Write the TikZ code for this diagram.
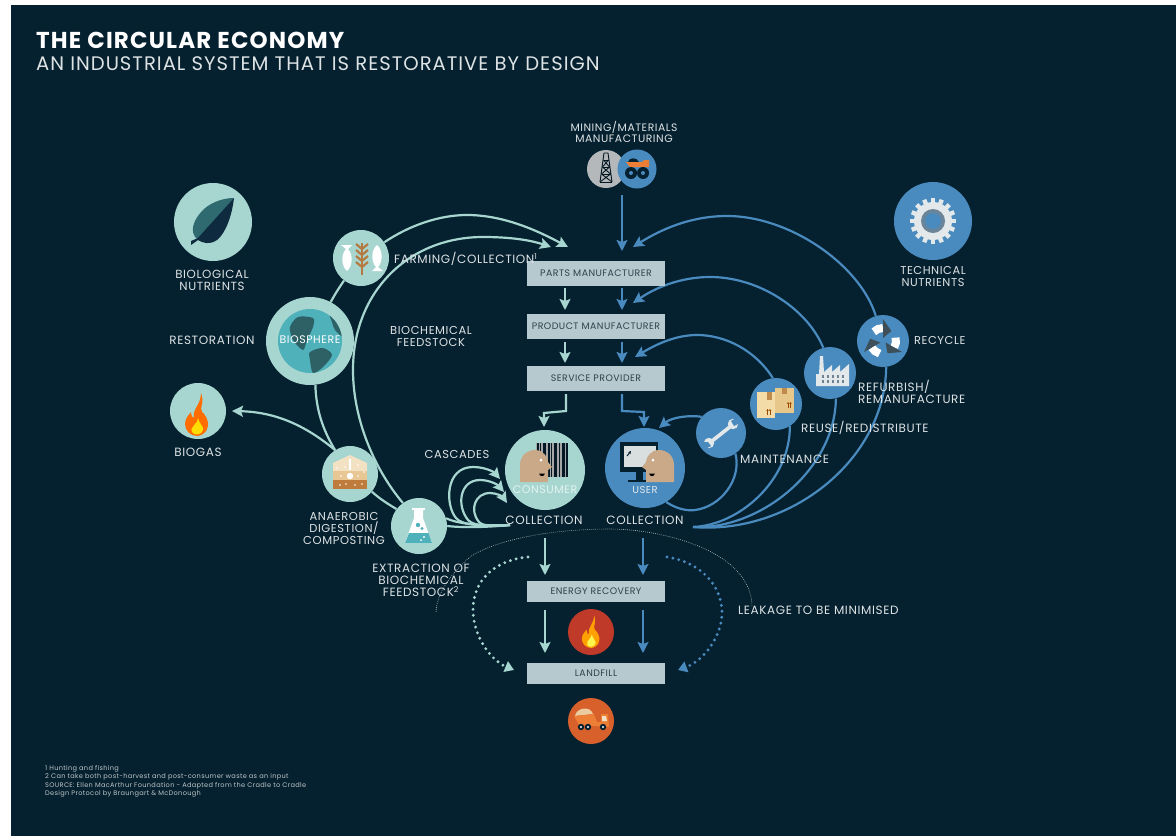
\documentclass[tikz,border=0pt]{standalone}
\usepackage{fontspec}
\setmainfont[LetterSpace=5]{Poppins}
\usetikzlibrary{arrows.meta}
\definecolor{bgc}{HTML}{05202E}
\definecolor{mint}{HTML}{A7D6D1}
\definecolor{bluec}{HTML}{4A8BBF}
\definecolor{boxc}{HTML}{B5C9CF}
\definecolor{txt}{HTML}{DDE3E5}
\definecolor{boxtxt}{HTML}{2F424C}
\definecolor{skin}{HTML}{C9A988}
\definecolor{paleg}{HTML}{E3E8EA}
\definecolor{leaflight}{HTML}{2F6A70}
\definecolor{leafdark}{HTML}{0E2A3F}
\definecolor{globec}{HTML}{4FB1BA}
\definecolor{landc}{HTML}{2D6166}
\definecolor{firebg}{HTML}{BF3A28}
\definecolor{truckbg}{HTML}{D8612B}
\definecolor{truckbed}{HTML}{EC7F35}
\definecolor{loadc}{HTML}{EBCBA0}
\definecolor{oilc}{HTML}{B4B8BA}
\definecolor{wheat}{HTML}{B57A42}
\definecolor{cream1}{HTML}{F3E1C4}
\definecolor{cream2}{HTML}{E9C795}
\definecolor{soil}{HTML}{BE7B3C}
\definecolor{boxfront}{HTML}{F3DCA8}
\definecolor{boxback}{HTML}{E8C88A}
\definecolor{strap}{HTML}{C08A4C}
\definecolor{darkhead}{HTML}{3D4F58}
\pgfdeclarelayer{bg}
\pgfsetlayers{bg,main}
\tikzset{
  x=1pt,y=-1pt,
  disc/.style={circle,draw=none,inner sep=0pt,fill=#1},
  minibox/.style={rectangle,fill=boxc,minimum width=138pt,inner sep=0pt,text=boxtxt,font=\fontsize{9.4}{10}\selectfont},
  lbl/.style={text=txt,inner sep=0pt,align=center,font=\fontsize{12}{12}\selectfont},
  lbll/.style={lbl,anchor=west,align=left},
  mintline/.style={draw=mint,line width=2.2pt},
  blueline/.style={draw=bluec,line width=2.2pt},
  mintarrow/.style={mintline,-{Stealth[length=11pt,width=11pt,inset=2pt]}},
  bluearrow/.style={blueline,-{Stealth[length=11pt,width=11pt,inset=2pt]}},
  mintdots/.style={draw=mint,line width=3.2pt,line cap=round,dash pattern=on 0pt off 6pt,-{Stealth[length=9pt,width=11pt,inset=0pt]}},
  bluedots/.style={draw=bluec,line width=3.2pt,line cap=round,dash pattern=on 0pt off 6pt,-{Stealth[length=9pt,width=11pt,inset=0pt]}},
  leakline/.style={draw=txt!80!bgc,line width=0.6pt,dash pattern=on 0.8pt off 1.2pt},
}
\newcommand{\flameicon}[5]{\begin{scope}[shift={(#1,#2)},scale=#3]
 \fill[#4] (4,-22) .. controls (8,-12) and (2,-8) .. (5,-3) .. controls (8,-1) and (12,6) .. (11,11) .. controls (10,18) and (4,21) .. (0,21) .. controls (-7,21) and (-12,15) .. (-12,9) .. controls (-12,3) and (-8,0) .. (-6,-3) .. controls (-6,1) and (-4,3) .. (-3,3) .. controls (-5,-6) and (4,-10) .. (4,-22) -- cycle;
 \fill[#5] (1,3) .. controls (2,9) and (7,11) .. (6,15) .. controls (5,20) and (-3,21) .. (-5,17) .. controls (-7,13) and (-3,12) .. (-2,9) .. controls (-1,8) and (1,6) .. (1,3) -- cycle;
\end{scope}}
\newcommand{\headicon}[3]{\begin{scope}[shift={(#1,#2)},xscale=#3]
 \fill[skin] (-16,16) -- (-16,-1) .. controls (-16,-11) and (-8,-16) .. (-1,-16) .. controls (7,-16) and (12,-9) .. (12,-4) -- (16,1) -- (12,4) -- (12,16) -- cycle;
 \fill[white] (5,-6) circle[radius=1.5];
 \fill[black] (3,7.5) .. controls (4,11) and (8,11) .. (9,7.5) -- cycle;
\end{scope}}
\newcommand{\fishicon}[3]{\begin{scope}[shift={(#1,#2)},rotate=#3]
 \fill[white] (0,-13) .. controls (6,-8) and (6,4) .. (1,9) -- (6,13) -- (-5,13) -- (-1,9) .. controls (-6,4) and (-6,-8) .. (0,-13) -- cycle;
\end{scope}}
\begin{document}
\begin{tikzpicture}
\useasboundingbox (0,0) rectangle (1176,836);
\begin{pgfonlayer}{bg}
\fill[white] (0,0) rectangle (1176,836);
\fill[bgc] (11,5) rectangle (1176,836);
\end{pgfonlayer}

% nodes: discs
\node[disc=mint,minimum size=78pt] (leafn) at (213,222) {};
\node[disc=bluec,minimum size=78pt] (gearn) at (933,221) {};
\node[disc=mint,minimum size=56pt] (farm) at (361,258) {};
\node[disc=mint,minimum size=88pt] (bio) at (310,341) {};
\node[disc=mint,minimum size=56pt] (biogas) at (198,411) {};
\node[disc=mint,minimum size=56pt] (anaer) at (350,474) {};
\node[disc=mint,minimum size=56pt] (flask) at (419,526) {};
\node[disc=mint,minimum size=80pt] (cons) at (545,470) {};
\node[disc=bluec,minimum size=80pt] (user) at (645,468) {};
\node[disc=bluec,minimum size=50pt] (maint) at (721,433) {};
\node[disc=bluec,minimum size=52pt] (reuse) at (776,404) {};
\node[disc=bluec,minimum size=52pt] (refurb) at (830,373) {};
\node[disc=bluec,minimum size=52pt] (recyc) at (883,341) {};
\node[disc=oilc,minimum size=38pt] (oil) at (606,169) {};
\node[disc=bluec,minimum size=39pt] (mine) at (637,169) {};
\node[disc=firebg,minimum size=46pt] (fire) at (591,632) {};
\node[disc=truckbg,minimum size=46pt] (truck) at (591,721) {};

% boxes
\node[minibox,minimum height=25pt] (parts) at (596,273.5) {PARTS MANUFACTURER};
\node[minibox,minimum height=25pt] (prod) at (596,326.5) {PRODUCT MANUFACTURER};
\node[minibox,minimum height=25pt] (serv) at (596,378.5) {SERVICE PROVIDER};
\node[minibox,minimum height=21pt] (energy) at (596,591.5) {ENERGY RECOVERY};
\node[minibox,minimum height=21pt] (land) at (596,673.5) {LANDFILL};

% free ends of connectors
\coordinate (collM) at (510,525);
\coordinate (collB) at (693,527);
\coordinate (tipF) at (568,247);
\coordinate (tipB) at (551,247);
\coordinate (tipG) at (232,411);
\coordinate (tipC1) at (500,479);
\coordinate (tipC2) at (504,492);
\coordinate (tipC3) at (507,503);
\coordinate (tipR) at (633,247);
\coordinate (tipP) at (633,303);
\coordinate (tipS) at (635,357);
\coordinate (tipU) at (659,428);
\coordinate (mineS) at (622,195);
\coordinate (mineE) at (622,251);
\coordinate (a1) at (565,288); \coordinate (a2) at (565,310);
\coordinate (a3) at (622,288); \coordinate (a4) at (622,310);
\coordinate (a5) at (565,342); \coordinate (a6) at (565,363);
\coordinate (a7) at (622,342); \coordinate (a8) at (622,363);
\coordinate (b1) at (566,394); \coordinate (b2) at (544,427);
\coordinate (b3) at (622,394); \coordinate (b4) at (644,427);
\coordinate (c1) at (545,538); \coordinate (c2) at (545,575);
\coordinate (c3) at (643,538); \coordinate (c4) at (643,575);
\coordinate (d1) at (545,610); \coordinate (d2) at (545,653);
\coordinate (d3) at (643,610); \coordinate (d4) at (643,653);
\coordinate (e1) at (528,557); \coordinate (e2) at (514,670);
\coordinate (f1) at (667,557); \coordinate (f2) at (678,670);
\coordinate (g1) at (436,612); \coordinate (g2) at (752,607);

\begin{pgfonlayer}{bg}
% biological side
\draw[mintarrow] (farm.34) .. controls (410,225) and (440,215) .. (467,215) .. controls (505,215) and (540,232) .. (tipF);
\draw[mintarrow] (flask.125) .. controls (375,470) and (353,420) .. (353,370) .. controls (353,290) and (410,237) .. (483,237) .. controls (510,237) and (530,240) .. (tipB);
\draw[mintline] (bio.62) .. controls (335,294) and (339,288) .. (farm.-127);
\draw[mintline] (bio.-83) .. controls (316,410) and (323,430) .. (anaer.122);
\draw[mintline] (anaer.-39) .. controls (380,499) and (388,504) .. (flask.143);
\draw[mintarrow] (anaer.122) .. controls (305,425) and (275,412) .. (tipG);
\draw[mintline] (flask.0) .. controls (465,528) and (490,527) .. (collM);
\draw[mintline] (flask.16) .. controls (458,524) and (480,526) .. (collM);
\draw[mintarrow] (collM) .. controls (485,526) and (462,526) .. (456,518) .. controls (445,505) and (445,467) .. (473,467) .. controls (485,467) and (494,472) .. (tipC1);
\draw[mintarrow] (collM) .. controls (490,526) and (475,527) .. (468,520) .. controls (456,505) and (460,480) .. (480,480) .. controls (490,480) and (498,485) .. (tipC2);
\draw[mintarrow] (collM) .. controls (495,526) and (484,527) .. (479,522) .. controls (469,510) and (475,493) .. (490,493) .. controls (497,493) and (503,497) .. (tipC3);
% technical side
\draw[bluearrow] (recyc.106) .. controls (860,265) and (790,216) .. (727,216) .. controls (690,216) and (660,230) .. (tipR);
\draw[bluearrow] (refurb.105) .. controls (808,310) and (760,277) .. (710,277) .. controls (680,277) and (655,288) .. (tipP);
\draw[bluearrow] (reuse.97) .. controls (755,350) and (725,335) .. (697,335) .. controls (675,335) and (655,345) .. (tipS);
\draw[bluearrow] (maint.140) .. controls (690,415) and (672,417) .. (tipU);
\draw[blueline] (user.-58) .. controls (678,510) and (690,511) .. (695,510) .. controls (720,507) and (742,480) .. (maint.-55);
\draw[blueline] (reuse.-58) .. controls (790,480) and (740,525) .. (collB);
\draw[blueline] (refurb.-77) .. controls (835,470) and (760,530) .. (collB);
\draw[blueline] (recyc.-83) .. controls (885,460) and (790,535) .. (collB);
% straight
\draw[bluearrow] (mineS) -- (mineE);
\draw[mintarrow] (a1) -- (a2);
\draw[bluearrow] (a3) -- (a4);
\draw[mintarrow] (a5) -- (a6);
\draw[bluearrow] (a7) -- (a8);
\draw[mintarrow] (b1) -- ++(0,17) -- ++(-22,2) -- (b2);
\draw[bluearrow] (b3) -- ++(0,17) -- ++(22,1) -- (b4);
\draw[mintarrow] (c1) -- (c2);
\draw[bluearrow] (c3) -- (c4);
\draw[mintarrow] (d1) -- (d2);
\draw[bluearrow] (d3) -- (d4);
\draw[mintdots] (e1) .. controls (495,560) and (473,580) .. (473,610) .. controls (473,635) and (490,660) .. (e2);
\draw[bluedots] (f1) .. controls (700,562) and (722,585) .. (722,613) .. controls (722,635) and (705,660) .. (f2);
\draw[leakline] (g1) .. controls (437,590) and (455,570) .. (470,557) .. controls (495,540) and (550,529) .. (610,529) .. controls (660,529) and (752,550) .. (g2);
\end{pgfonlayer}

% ---------- icons ----------
% leaf
\fill[leaflight] (234,198) .. controls (222,198) and (210,203) .. (203,210) .. controls (194,219) and (188,232) .. (198,240) -- cycle;
\fill[leafdark] (234,198) .. controls (232,215) and (226,233) .. (217,240) .. controls (210,245) and (202,243) .. (198,240) -- (191,245) -- (191,241) -- (198,238) -- cycle;
% gear
\begin{scope}[shift={(gearn.center)}]
\foreach \a in {0,22.5,...,337.5} {\fill[paleg,rotate=\a] (-2.2,-23) rectangle (2.2,0);}
\fill[paleg] (0,0) circle[radius=19];
\fill[gray!60!bluec] (0,0) circle[radius=12];
\fill[bluec] (0,0) circle[radius=8];
\end{scope}
% farming
\fishicon{347}{258}{180}
\fishicon{377}{258}{0}
\draw[wheat,line width=1.6pt] (362,243) -- (362,275);
\foreach \yy in {247,253,259,265} {\draw[wheat,line width=2.2pt] (356,\yy-3) -- (362,\yy+2) -- (368,\yy-3);}
% globe
\node[disc=globec,minimum size=64pt] (globe) at (bio.center) {};
\begin{scope}
\clip (bio.center) circle[radius=32];
\fill[landc] plot[smooth cycle] coordinates {(290,327) (298,317) (313,318) (313,327) (307,340) (303,350) (293,340)};
\fill[landc] plot[smooth cycle] coordinates {(310,352) (323,348) (332,355) (323,367) (313,373) (310,360)};
\fill[landc] plot[smooth cycle] coordinates {(330,315) (340,318) (344,337) (335,330) (332,322)};
\end{scope}
% flames
\flameicon{197}{415}{1}{orange!85!red}{yellow!80!orange}
\flameicon{591}{632}{0.76}{orange!75!yellow}{yellow!70!white}
% compost
\fill[cream1] (333,463) -- (350,455) -- (367,463) -- (367,471) -- (333,471) -- cycle;
\fill[cream2] (333,471) rectangle (367,480);
\fill[soil] (333,480) rectangle (367,489);
\draw[white,line width=1.6pt] (350,459) -- (350,470);
\fill[white] (350,476) circle[radius=3.2];
\foreach \px/\py in {337/468,341/476,346/484,340/485,355/485,362/484,358/476,364/472,345/467,358/465} {\fill[white] (\px,\py) circle[radius=0.8];}
% flask
\fill[white] (412,508) rectangle (425,510);
\fill[white] (414,510) -- (423,510) -- (423,518) -- (432,543) -- (405,543) -- (414,518) -- cycle;
\fill[globec] (409,533) -- (428.5,533) -- (432,543) -- (405,543) -- cycle;
\fill[globec] (418,525) circle[radius=2.2] (422,528.5) circle[radius=1.6];
\fill[white] (424,537) circle[radius=1.2] (421,540) circle[radius=1];
% consumer
\fill[gray!70!white] (536,443) rectangle (568,477);
\foreach \bx/\bw in {537/2,540/1,543/3,548/1.5,551/1,554/3,559/1,562/3,566/1.5} {\fill[bgc!80!black] (\bx,443) rectangle ++(\bw,34);}
\headicon{536}{466}{1}
% user
\fill[bgc] (620,442) rectangle (658,472);
\fill[paleg!90!gray] (624,446) rectangle (656,467);
\fill[bgc] (636,472) rectangle (643,480);
\fill[bgc] (628,480) rectangle (647,482);
\draw[bgc,line width=1pt,-{Stealth[length=3pt,width=3pt]}] (627,456) -- (631,451);
\headicon{658}{466}{-1}
% maintenance wrench
\draw[paleg,line width=3.6pt] (712,441) -- (731,426);
\fill[paleg] (733,424) circle[radius=5.2];
\fill[paleg] (709,443) circle[radius=5.2];
\fill[bluec] (736,418) -- (740,423) -- (734,426) -- (731,421) -- cycle;
\fill[bluec] (705,449) -- (702,442) -- (708,442) -- (711,446) -- cycle;
% reuse boxes
\fill[boxback] (775,388) rectangle (794,413);
\fill[strap] (782,388) rectangle (787,394);
\fill[boxfront] (757,392) rectangle (775,418);
\fill[strap] (767,392) rectangle (772,400);
\foreach \ax in {767.5,770} {\draw[orange!60!black,line width=0.8pt,-{Stealth[length=2pt,width=2.4pt]}] (\ax,415) -- (\ax,409);}
\foreach \ax in {788,790.5} {\draw[orange!60!black,line width=0.8pt,-{Stealth[length=2pt,width=2.4pt]}] (\ax,408) -- (\ax,402);}
% factory
\fill[paleg] (816,386) -- (816,374) -- (819,374) -- (820,356) -- (823,356) -- (824,372) -- (832,365) -- (832,372) -- (840,365) -- (840,372) -- (849,364) -- (849,386) -- cycle;
\foreach \wx in {822,827,832,837,842} {\foreach \wy in {375,380} {\fill[gray!70!bluec] (\wx,\wy) rectangle ++(2.4,3);}}
% recycle
\begin{scope}[shift={(recyc.center)}]
\foreach \r in {0,120,240} {
 \begin{scope}[rotate=\r]
 \draw[white,line width=8pt] (-15:13) arc[start angle=-15,end angle=30,radius=13];
 \fill[darkhead] (30:3) -- (30:22) -- (70:13) -- cycle;
 \end{scope}
}
\end{scope}
% derrick
\begin{scope}[bgc!70!black,line width=0.9pt]
\draw (604,153) -- (600,182) (608,153) -- (612,182) (604,153) -- (608,153);
\draw (603.5,160) -- (608.5,160) (602.5,167) -- (609.5,167) (601.5,174) -- (610.5,174) (600,182) -- (612,182);
\draw (603.5,160) -- (609.5,167) (608.5,160) -- (602.5,167) (602.5,167) -- (610.5,174) (609.5,167) -- (601.5,174) (601.5,174) -- (612,182) (610.5,174) -- (600,182);
\end{scope}
% mining truck
\fill[bgc] (628,162) .. controls (629,157) and (637,157) .. (639,162) -- cycle;
\fill[truckbed] (626,162) -- (642,162) -- (644,160) -- (649,160) -- (649,167) -- (630,167) -- cycle;
\foreach \wx in {631,643} {\fill[bgc] (\wx,173) circle[radius=6]; \fill[bluec] (\wx,173) circle[radius=2];}
% dump truck
\fill[loadc] (575,716) .. controls (576,708) and (590,705) .. (593,714) -- cycle;
\fill[truckbed] (574,716) -- (594,714) -- (597,722) -- (601,722) -- (601,714) -- (608,714) -- (609,727) -- (579,725) -- cycle;
\fill[loadc!60!white] (602,716) -- (606,716) -- (607,721) -- (602,721) -- cycle;
\foreach \wx in {581,588,603} {\fill[bgc] (\wx,727) circle[radius=3.2]; \fill[white] (\wx,727) circle[radius=1.1];}

% ---------- text ----------
\node[anchor=west,inner sep=0pt,text=white,font=\fontsize{23}{25}\bfseries\selectfont] (title) at (36,40) {THE CIRCULAR ECONOMY};
\node[anchor=west,inner sep=0pt,text=txt,font=\fontsize{19.6}{21}\selectfont] (subtitle) at (36,64) {AN INDUSTRIAL SYSTEM THAT IS RESTORATIVE BY DESIGN};
\node[lbl,font=\fontsize{10.8}{11}\selectfont] (tmine) at (624,131.5) {MINING/MATERIALS\\MANUFACTURING};
\node[lbl,font=\fontsize{11.8}{12}\selectfont] (tleaf) at (212,280) {BIOLOGICAL\\NUTRIENTS};
\node[lbl,font=\fontsize{11.4}{12}\selectfont] (tgear) at (933,277) {TECHNICAL\\NUTRIENTS};
\node[lbll] (tfarm) at (394,259) {FARMING/COLLECTION\textsuperscript{1}};
\node[lbl] (trest) at (212,340) {RESTORATION};
\node[lbl,text=white,font=\fontsize{11}{12}\selectfont] (tbio) at (310,340) {BIOSPHERE};
\node[lbl] (tgas) at (198,452) {BIOGAS};
\node[lbl,font=\fontsize{11.5}{12}\selectfont] (tfeed) at (431,336) {BIOCHEMICAL\\FEEDSTOCK};
\node[lbl,font=\fontsize{11.5}{12}\selectfont] (tcasc) at (457,454) {CASCADES};
\node[lbl,font=\fontsize{11.5}{12}\selectfont] (tanae) at (344,528) {ANAEROBIC\\DIGESTION/\\COMPOSTING};
\node[lbl] (tcolm) at (544,520) {COLLECTION};
\node[lbl] (tcolb) at (645,520) {COLLECTION};
\node[lbl] (text1) at (421,580.5) {EXTRACTION OF\\BIOCHEMICAL\\FEEDSTOCK\textsuperscript{2}};
\node[lbl,text=mint!30!white,font=\fontsize{11}{12}\selectfont] (tcons) at (545,490) {CONSUMER};
\node[lbl,text=paleg,font=\fontsize{10}{12}\selectfont] (tuser) at (645,490) {USER};
\node[lbll] (tmain) at (740,459) {MAINTENANCE};
\node[lbll] (treus) at (801,428) {REUSE/REDISTRIBUTE};
\node[lbll] (tref) at (858,392) {REFURBISH/\\REMANUFACTURE};
\node[lbll,font=\fontsize{11.4}{12}\selectfont] (trec) at (914,341) {RECYCLE};
\node[lbll] (tleak) at (738,610) {LEAKAGE TO BE MINIMISED};
\node[anchor=north west,inner sep=0pt,text=txt!85!bgc,align=left,font=\fontsize{6.6}{8.4}\selectfont] (notes) at (45,765) {1 Hunting and fishing\\2 Can take both post-harvest and post-consumer waste as an input\\SOURCE: Ellen MacArthur Foundation - Adapted from the Cradle to Cradle\\Design Protocol by Braungart \& McDonough};
\end{tikzpicture}
\end{document}
